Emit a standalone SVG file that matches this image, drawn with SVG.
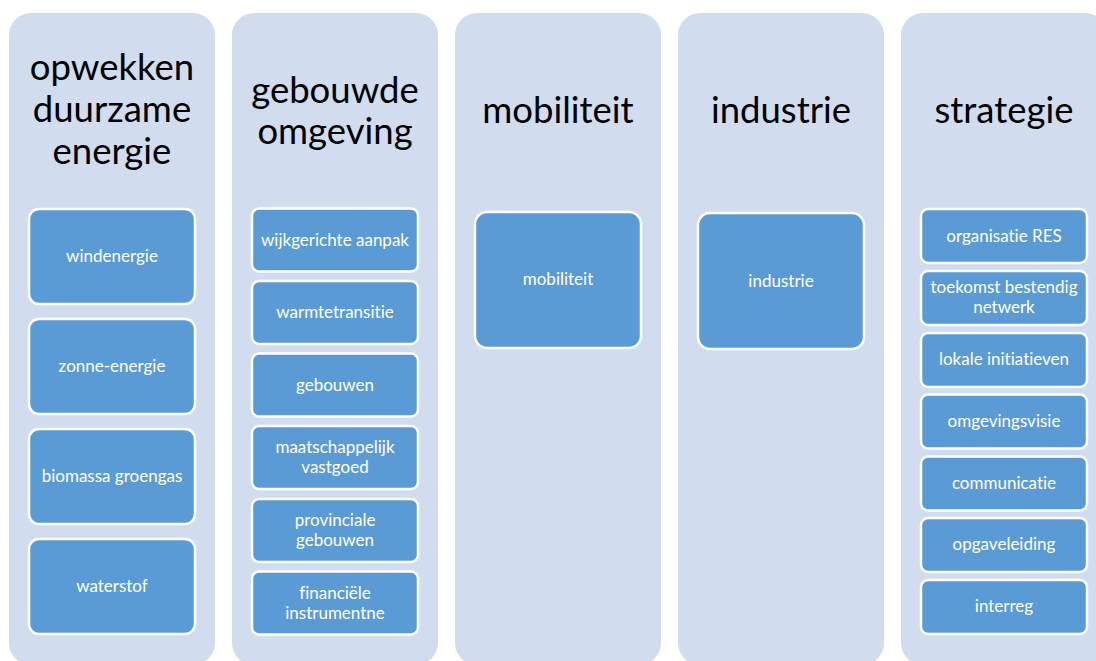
<svg xmlns="http://www.w3.org/2000/svg" width="1096" height="661" viewBox="0 0 1096 661">
<style>
.col{fill:#D1DDEE;}
.box{fill:#5B9BD5;stroke:#FFFFFF;stroke-width:2.5;}
.title{font-family:Lato,"Open Sans","Liberation Sans",sans-serif;font-size:36.5px;fill:#000000;text-anchor:middle;font-variant-ligatures:none;}
.lbl{font-family:Lato,"Open Sans","Liberation Sans",sans-serif;font-size:17px;fill:#FFFFFF;text-anchor:middle;font-variant-ligatures:none;}
</style>
<rect width="1096" height="661" fill="#FFFFFF"/>
<g id="col1">
<rect class="col" x="9" y="13" width="206" height="652" rx="22"/>
<text class="title" x="112" y="80">opwekken</text>
<text class="title" x="112" y="122">duurzame</text>
<text class="title" x="112" y="164">energie</text>
</g>
<g id="n-windenergie"><rect class="box" x="29" y="209" width="166" height="95" rx="10"/><text class="lbl" x="112" y="262">windenergie</text></g>
<g id="n-zonne"><rect class="box" x="29" y="319" width="166" height="95" rx="10"/><text class="lbl" x="112" y="372">zonne-energie</text></g>
<g id="n-biomassa"><rect class="box" x="29" y="429" width="166" height="95" rx="10"/><text class="lbl" x="112" y="482">biomassa groengas</text></g>
<g id="n-waterstof"><rect class="box" x="29" y="539" width="166" height="95" rx="10"/><text class="lbl" x="112" y="592">waterstof</text></g>

<g id="col2">
<rect class="col" x="232" y="13" width="206" height="652" rx="22"/>
<text class="title" x="335" y="103">gebouwde</text>
<text class="title" x="335" y="144">omgeving</text>
</g>
<g id="n-wijk"><rect class="box" x="252" y="208.5" width="166" height="63" rx="7"/><text class="lbl" x="335" y="245.5">wijkgerichte aanpak</text></g>
<g id="n-warmte"><rect class="box" x="252" y="281" width="166" height="63" rx="7"/><text class="lbl" x="335" y="318">warmtetransitie</text></g>
<g id="n-gebouwen"><rect class="box" x="252" y="353.5" width="166" height="63" rx="7"/><text class="lbl" x="335" y="390.5">gebouwen</text></g>
<g id="n-maatsch"><rect class="box" x="252" y="426" width="166" height="63" rx="7"/><text class="lbl" x="335" y="453">maatschappelijk</text><text class="lbl" x="335" y="473">vastgoed</text></g>
<g id="n-prov"><rect class="box" x="252" y="499" width="166" height="63" rx="7"/><text class="lbl" x="335" y="526">provinciale</text><text class="lbl" x="335" y="546">gebouwen</text></g>
<g id="n-fin"><rect class="box" x="252" y="571.5" width="166" height="63" rx="7"/><text class="lbl" x="335" y="598.5">financiële</text><text class="lbl" x="335" y="618.5">instrumentne</text></g>

<g id="col3">
<rect class="col" x="455" y="13" width="206" height="652" rx="22"/>
<text class="title" x="558" y="123">mobiliteit</text>
</g>
<g id="n-mob"><rect class="box" x="475" y="212" width="166" height="136" rx="12"/><text class="lbl" x="558" y="285">mobiliteit</text></g>

<g id="col4">
<rect class="col" x="678" y="13" width="206" height="652" rx="22"/>
<text class="title" x="781" y="123">industrie</text>
</g>
<g id="n-ind"><rect class="box" x="698" y="213" width="166" height="136" rx="12"/><text class="lbl" x="781" y="287">industrie</text></g>

<g id="col5">
<rect class="col" x="901" y="13" width="206" height="652" rx="22"/>
<text class="title" x="1004" y="123">strategie</text>
</g>
<g id="n-org"><rect class="box" x="921" y="209" width="166" height="54" rx="7"/><text class="lbl" x="1004" y="242">organisatie RES</text></g>
<g id="n-toek"><rect class="box" x="921" y="271" width="166" height="54" rx="7"/><text class="lbl" x="1004" y="293">toekomst bestendig</text><text class="lbl" x="1004" y="313">netwerk</text></g>
<g id="n-lok"><rect class="box" x="921" y="333" width="166" height="54" rx="7"/><text class="lbl" x="1004" y="365">lokale initiatieven</text></g>
<g id="n-omg"><rect class="box" x="921" y="394.5" width="166" height="54" rx="7"/><text class="lbl" x="1004" y="426.5">omgevingsvisie</text></g>
<g id="n-comm"><rect class="box" x="921" y="456.5" width="166" height="54" rx="7"/><text class="lbl" x="1004" y="488.5">communicatie</text></g>
<g id="n-opg"><rect class="box" x="921" y="518" width="166" height="54" rx="7"/><text class="lbl" x="1004" y="550">opgaveleiding</text></g>
<g id="n-int"><rect class="box" x="921" y="580" width="166" height="54" rx="7"/><text class="lbl" x="1004" y="612">interreg</text></g>
<g id="connectors"></g>
</svg>
